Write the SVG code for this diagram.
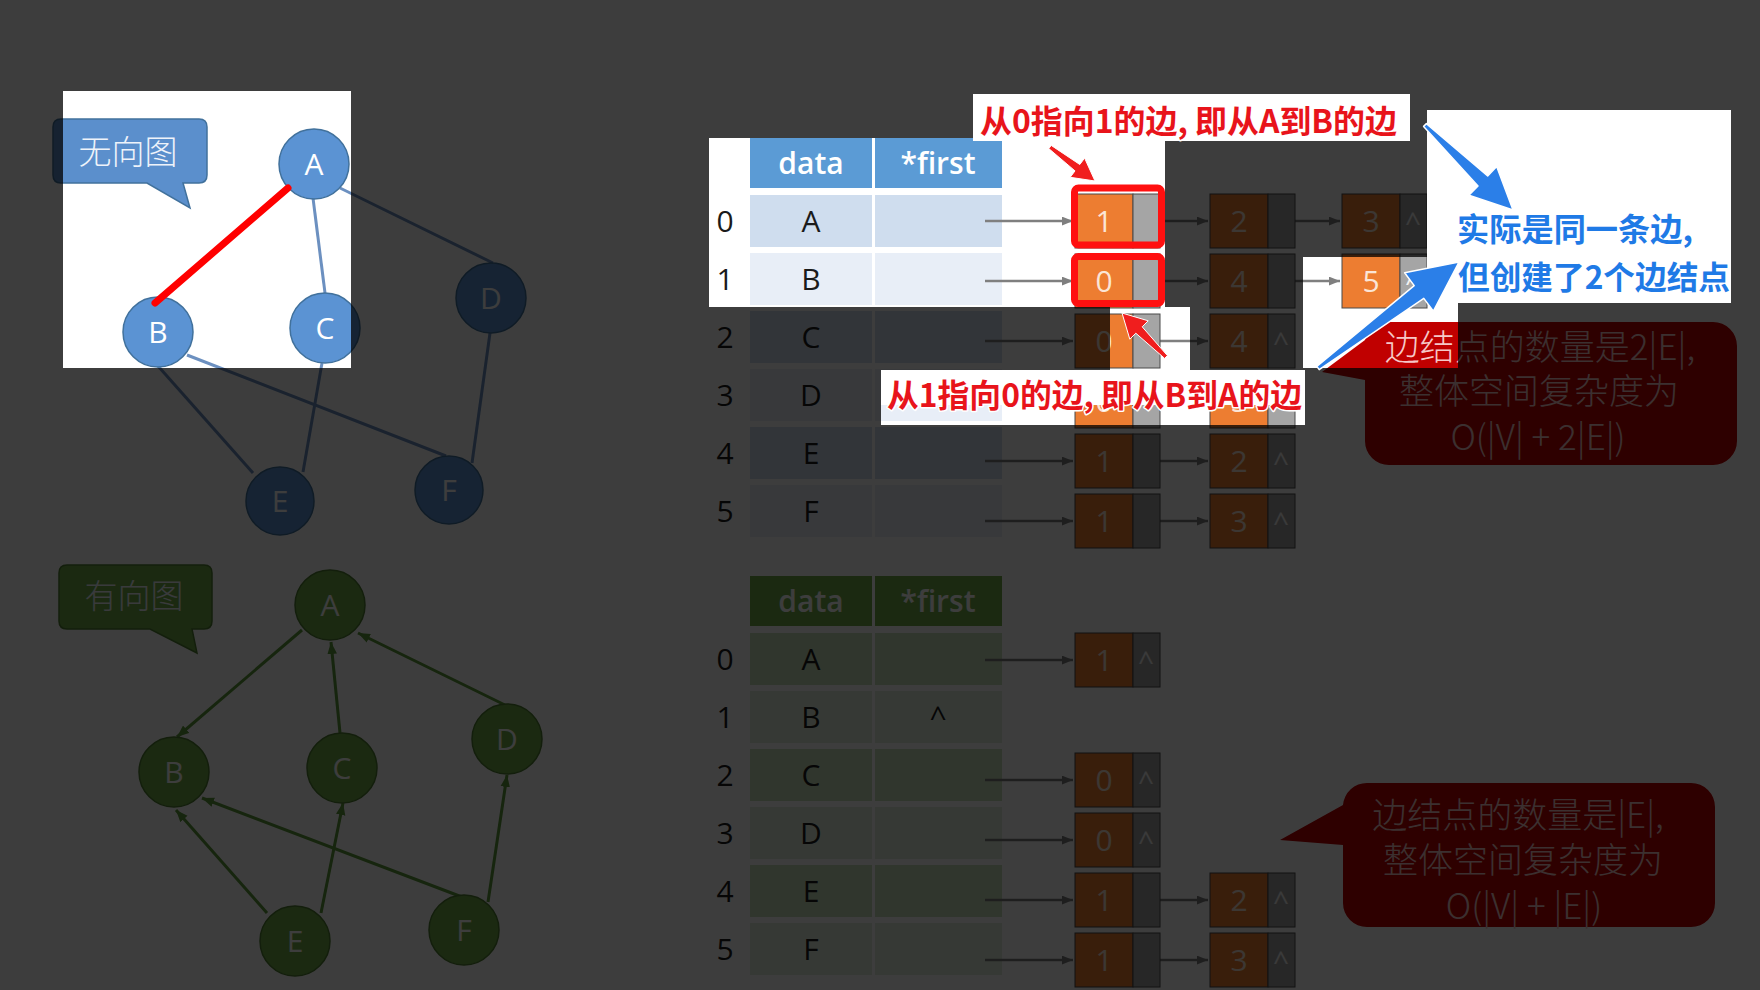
<svg xmlns="http://www.w3.org/2000/svg" width="1760" height="990" viewBox="0 0 1760 990">
<style>
text { font-family: "Open Sans", "Liberation Sans", sans-serif; }
.cjk { font-family: "Noto Sans CJK SC", "Noto Sans", sans-serif; }
.edge-u { stroke: #6C90C0; stroke-width: 3; fill: none; }
.edge-d { stroke: #5E9A3A; stroke-width: 3; fill: none; marker-end: url(#ah-g); }
.unode circle { fill: #5B93D3; stroke: #41719C; stroke-width: 1.5; }
.dnode circle { fill: #70AD47; stroke: #507E32; stroke-width: 1.5; }
.nl { font-size: 30px; fill: #ffffff; text-anchor: middle; }
.hd-u { fill: #5B9BD5; }
.hd-d { fill: #70AD47; }
.ht { font-size: 30px; font-weight: 600; fill: #ffffff; text-anchor: middle; }
.ru0 { fill: #CFDDEE; }
.ru1 { fill: #E8EEF7; }
.rd0 { fill: #C9DFBB; }
.rd1 { fill: #E3EFDB; }
.idx, .val { font-size: 30px; fill: #1a1a1a; text-anchor: middle; }
.dc { fill: #ED7D31; stroke: #4a4a4a; stroke-width: 1; }
.pc { fill: #A5A5A5; stroke: #4a4a4a; stroke-width: 1; }
.bd { font-size: 30px; fill: #FBE5D6; text-anchor: middle; }
.nul { font-size: 28px; fill: #F2F2F2; text-anchor: middle; }
.ptr { stroke: #7F7F7F; stroke-width: 2.5; fill: none; marker-end: url(#ah); }
.bubble-u { fill: #5B8FCC; stroke: #41719C; stroke-width: 1.5; }
.bubble-d { fill: #70AD47; stroke: #507E32; stroke-width: 1.5; }
.bt { font-size: 33px; font-weight: 300; fill: #EEF3FA; text-anchor: middle; }
.callout { fill: #C00000; }
.ct { font-size: 35px; font-weight: 300; fill: #F6C8C8; text-anchor: middle; }
.tag { fill: #ffffff; }
.red-txt { font-size: 32px; font-weight: 700; fill: #E8141B; stroke: #ffffff; stroke-width: 3; paint-order: stroke; stroke-linejoin: round; }
.blue-txt { font-size: 32px; font-weight: 700; fill: #1F7AE6; stroke: #ffffff; stroke-width: 3; paint-order: stroke; stroke-linejoin: round; }
.frame { fill: none; stroke: #FF1010; stroke-width: 7; }
.red-arrow { fill: #F01E1E; stroke: #ffffff; stroke-width: 1; stroke-linejoin: round; }
.blue-arrow { fill: #2B7FE8; stroke: #ffffff; stroke-width: 1.5; stroke-linejoin: round; }
</style>
<defs>
  <marker id="ah" viewBox="0 0 10 8" refX="10" refY="4" markerWidth="11" markerHeight="9" markerUnits="userSpaceOnUse" orient="auto">
    <path d="M0,0 L10,4 L0,8 Z" fill="#7F7F7F"/>
  </marker>
  <marker id="ah-g" viewBox="0 0 10 8" refX="10" refY="4" markerWidth="12" markerHeight="10" markerUnits="userSpaceOnUse" orient="auto">
    <path d="M0,0 L10,4 L0,8 Z" fill="#5E9A3A"/>
  </marker>
</defs>

<!-- slide background -->
<rect x="0" y="0" width="1760" height="990" fill="#ffffff"/>

<!-- undirected graph -->
<path class="bubble-u" d="M61,119 H199 Q207,119 207,127 V175 Q207,183 199,183 H183 L190,208 L147,183 H61 Q53,183 53,175 V127 Q53,119 61,119 Z"/>
<text class="cjk bt" x="128" y="164">无向图</text>
<g id="edges-undirected">
  <line class="edge-u" x1="155" y1="303" x2="288" y2="188"/>
  <line class="edge-u" x1="313" y1="198" x2="325" y2="293"/>
  <line class="edge-u" x1="340" y1="188" x2="493" y2="263"/>
  <line class="edge-u" x1="158" y1="366" x2="253" y2="473"/>
  <line class="edge-u" x1="187" y1="355" x2="446" y2="456"/>
  <line class="edge-u" x1="322" y1="363" x2="303" y2="472"/>
  <line class="edge-u" x1="490" y1="333" x2="472" y2="463"/>
</g>
<g id="u-A" class="unode"><circle cx="314" cy="164" r="35"/><text class="nl" x="314" y="175">A</text></g>
<g id="u-B" class="unode"><circle cx="158" cy="332" r="35"/><text class="nl" x="158" y="343">B</text></g>
<g id="u-C" class="unode"><circle cx="325" cy="328" r="35"/><text class="nl" x="325" y="339">C</text></g>
<g id="u-D" class="unode"><circle cx="491" cy="298" r="35"/><text class="nl" x="491" y="309">D</text></g>
<g id="u-E" class="unode"><circle cx="280" cy="501" r="34"/><text class="nl" x="280" y="512">E</text></g>
<g id="u-F" class="unode"><circle cx="449" cy="490" r="34"/><text class="nl" x="449" y="501">F</text></g>

<!-- directed graph -->
<path class="bubble-d" d="M67,565 H204 Q212,565 212,573 V621 Q212,629 204,629 H192 L197,653 L150,629 H67 Q59,629 59,621 V573 Q59,565 67,565 Z"/>
<text class="cjk bt" x="134" y="608">有向图</text>
<g id="edges-directed">
  <line class="edge-d" x1="302" y1="630" x2="177" y2="737"/>
  <line class="edge-d" x1="340" y1="733" x2="331" y2="642"/>
  <line class="edge-d" x1="505" y1="705" x2="358" y2="633"/>
  <line class="edge-d" x1="267" y1="913" x2="176" y2="810"/>
  <line class="edge-d" x1="321" y1="913" x2="343" y2="803"/>
  <line class="edge-d" x1="462" y1="897" x2="202" y2="798"/>
  <line class="edge-d" x1="488" y1="902" x2="507" y2="775"/>
</g>
<g id="d-A" class="dnode"><circle cx="330" cy="605" r="35"/><text class="nl" x="330" y="616">A</text></g>
<g id="d-B" class="dnode"><circle cx="174" cy="772" r="35"/><text class="nl" x="174" y="783">B</text></g>
<g id="d-C" class="dnode"><circle cx="342" cy="768" r="35"/><text class="nl" x="342" y="779">C</text></g>
<g id="d-D" class="dnode"><circle cx="507" cy="739" r="35"/><text class="nl" x="507" y="750">D</text></g>
<g id="d-E" class="dnode"><circle cx="295" cy="941" r="35"/><text class="nl" x="295" y="952">E</text></g>
<g id="d-F" class="dnode"><circle cx="464" cy="930" r="35"/><text class="nl" x="464" y="941">F</text></g>

<!-- vertex table, undirected -->
<g id="tbl-u">
  <rect class="hd-u" x="750" y="138" width="122" height="50"/>
  <rect class="hd-u" x="875" y="138" width="127" height="50"/>
  <text class="ht" x="811" y="174">data</text>
  <text class="ht" x="938" y="174">*first</text>
  <rect class="ru0" x="750" y="195" width="122" height="52"/><rect class="ru0" x="875" y="195" width="127" height="52"/>
  <rect class="ru1" x="750" y="253" width="122" height="52"/><rect class="ru1" x="875" y="253" width="127" height="52"/>
  <rect class="ru0" x="750" y="311" width="122" height="52"/><rect class="ru0" x="875" y="311" width="127" height="52"/>
  <rect class="ru1" x="750" y="369" width="122" height="52"/><rect class="ru1" x="875" y="369" width="127" height="52"/>
  <rect class="ru0" x="750" y="427" width="122" height="52"/><rect class="ru0" x="875" y="427" width="127" height="52"/>
  <rect class="ru1" x="750" y="485" width="122" height="52"/><rect class="ru1" x="875" y="485" width="127" height="52"/>
  <text class="idx" x="725" y="232">0</text><text class="val" x="811" y="232">A</text>
  <text class="idx" x="725" y="290">1</text><text class="val" x="811" y="290">B</text>
  <text class="idx" x="725" y="348">2</text><text class="val" x="811" y="348">C</text>
  <text class="idx" x="725" y="406">3</text><text class="val" x="811" y="406">D</text>
  <text class="idx" x="725" y="464">4</text><text class="val" x="811" y="464">E</text>
  <text class="idx" x="725" y="522">5</text><text class="val" x="811" y="522">F</text>
</g>

<!-- edge lists, undirected -->
<g id="links-u">
  <path class="ptr" d="M985,221 H1073"/><path class="ptr" d="M1160,221 H1208"/><path class="ptr" d="M1295,221 H1340"/>
  <path class="ptr" d="M985,281 H1073"/><path class="ptr" d="M1160,281 H1208"/><path class="ptr" d="M1295,281 H1340"/>
  <path class="ptr" d="M985,341 H1073"/><path class="ptr" d="M1160,341 H1208"/>
  <path class="ptr" d="M985,401 H1073"/><path class="ptr" d="M1160,401 H1208"/>
  <path class="ptr" d="M985,461 H1073"/><path class="ptr" d="M1160,461 H1208"/>
  <path class="ptr" d="M985,521 H1073"/><path class="ptr" d="M1160,521 H1208"/>
</g>
<g id="eu-0-1" transform="translate(1075,194)"><rect class="dc" width="58" height="54"/><rect class="pc" x="58" width="27" height="54"/><text class="bd" x="29" y="38">1</text></g>
<g id="eu-0-2" transform="translate(1210,194)"><rect class="dc" width="58" height="54"/><rect class="pc" x="58" width="27" height="54"/><text class="bd" x="29" y="38">2</text></g>
<g id="eu-0-3" transform="translate(1342,194)"><rect class="dc" width="58" height="54"/><rect class="pc" x="58" width="27" height="54"/><text class="bd" x="29" y="38">3</text><text class="nul" x="71" y="38">^</text></g>
<g id="eu-1-0" transform="translate(1075,254)"><rect class="dc" width="58" height="54"/><rect class="pc" x="58" width="27" height="54"/><text class="bd" x="29" y="38">0</text></g>
<g id="eu-1-4" transform="translate(1210,254)"><rect class="dc" width="58" height="54"/><rect class="pc" x="58" width="27" height="54"/><text class="bd" x="29" y="38">4</text></g>
<g id="eu-1-5" transform="translate(1342,254)"><rect class="dc" width="58" height="54"/><rect class="pc" x="58" width="27" height="54"/><text class="bd" x="29" y="38">5</text><text class="nul" x="71" y="38">^</text></g>
<g id="eu-2-0" transform="translate(1075,314)"><rect class="dc" width="58" height="54"/><rect class="pc" x="58" width="27" height="54"/><text class="bd" x="29" y="38">0</text></g>
<g id="eu-2-4" transform="translate(1210,314)"><rect class="dc" width="58" height="54"/><rect class="pc" x="58" width="27" height="54"/><text class="bd" x="29" y="38">4</text><text class="nul" x="71" y="38">^</text></g>
<g id="eu-3-0" transform="translate(1075,374)"><rect class="dc" width="58" height="54"/><rect class="pc" x="58" width="27" height="54"/><text class="bd" x="29" y="38">0</text></g>
<g id="eu-3-5" transform="translate(1210,374)"><rect class="dc" width="58" height="54"/><rect class="pc" x="58" width="27" height="54"/><text class="bd" x="29" y="38">5</text><text class="nul" x="71" y="38">^</text></g>
<g id="eu-4-1" transform="translate(1075,434)"><rect class="dc" width="58" height="54"/><rect class="pc" x="58" width="27" height="54"/><text class="bd" x="29" y="38">1</text></g>
<g id="eu-4-2" transform="translate(1210,434)"><rect class="dc" width="58" height="54"/><rect class="pc" x="58" width="27" height="54"/><text class="bd" x="29" y="38">2</text><text class="nul" x="71" y="38">^</text></g>
<g id="eu-5-1" transform="translate(1075,494)"><rect class="dc" width="58" height="54"/><rect class="pc" x="58" width="27" height="54"/><text class="bd" x="29" y="38">1</text></g>
<g id="eu-5-3" transform="translate(1210,494)"><rect class="dc" width="58" height="54"/><rect class="pc" x="58" width="27" height="54"/><text class="bd" x="29" y="38">3</text><text class="nul" x="71" y="38">^</text></g>

<!-- vertex table, directed -->
<g id="tbl-d">
  <rect class="hd-d" x="750" y="576" width="122" height="50"/>
  <rect class="hd-d" x="875" y="576" width="127" height="50"/>
  <text class="ht" x="811" y="612">data</text>
  <text class="ht" x="938" y="612">*first</text>
  <rect class="rd0" x="750" y="633" width="122" height="52"/><rect class="rd0" x="875" y="633" width="127" height="52"/>
  <rect class="rd1" x="750" y="691" width="122" height="52"/><rect class="rd1" x="875" y="691" width="127" height="52"/>
  <rect class="rd0" x="750" y="749" width="122" height="52"/><rect class="rd0" x="875" y="749" width="127" height="52"/>
  <rect class="rd1" x="750" y="807" width="122" height="52"/><rect class="rd1" x="875" y="807" width="127" height="52"/>
  <rect class="rd0" x="750" y="865" width="122" height="52"/><rect class="rd0" x="875" y="865" width="127" height="52"/>
  <rect class="rd1" x="750" y="923" width="122" height="52"/><rect class="rd1" x="875" y="923" width="127" height="52"/>
  <text class="idx" x="725" y="670">0</text><text class="val" x="811" y="670">A</text>
  <text class="idx" x="725" y="728">1</text><text class="val" x="811" y="728">B</text><text class="val" x="938" y="728">^</text>
  <text class="idx" x="725" y="786">2</text><text class="val" x="811" y="786">C</text>
  <text class="idx" x="725" y="844">3</text><text class="val" x="811" y="844">D</text>
  <text class="idx" x="725" y="902">4</text><text class="val" x="811" y="902">E</text>
  <text class="idx" x="725" y="960">5</text><text class="val" x="811" y="960">F</text>
</g>

<!-- edge lists, directed -->
<g id="links-d">
  <path class="ptr" d="M985,660 H1073"/>
  <path class="ptr" d="M985,780 H1073"/>
  <path class="ptr" d="M985,840 H1073"/>
  <path class="ptr" d="M985,900 H1073"/><path class="ptr" d="M1160,900 H1208"/>
  <path class="ptr" d="M985,960 H1073"/><path class="ptr" d="M1160,960 H1208"/>
</g>
<g id="ed-0-1" transform="translate(1075,633)"><rect class="dc" width="58" height="54"/><rect class="pc" x="58" width="27" height="54"/><text class="bd" x="29" y="38">1</text><text class="nul" x="71" y="38">^</text></g>
<g id="ed-2-0" transform="translate(1075,753)"><rect class="dc" width="58" height="54"/><rect class="pc" x="58" width="27" height="54"/><text class="bd" x="29" y="38">0</text><text class="nul" x="71" y="38">^</text></g>
<g id="ed-3-0" transform="translate(1075,813)"><rect class="dc" width="58" height="54"/><rect class="pc" x="58" width="27" height="54"/><text class="bd" x="29" y="38">0</text><text class="nul" x="71" y="38">^</text></g>
<g id="ed-4-1" transform="translate(1075,873)"><rect class="dc" width="58" height="54"/><rect class="pc" x="58" width="27" height="54"/><text class="bd" x="29" y="38">1</text></g>
<g id="ed-4-2" transform="translate(1210,873)"><rect class="dc" width="58" height="54"/><rect class="pc" x="58" width="27" height="54"/><text class="bd" x="29" y="38">2</text><text class="nul" x="71" y="38">^</text></g>
<g id="ed-5-1" transform="translate(1075,933)"><rect class="dc" width="58" height="54"/><rect class="pc" x="58" width="27" height="54"/><text class="bd" x="29" y="38">1</text></g>
<g id="ed-5-3" transform="translate(1210,933)"><rect class="dc" width="58" height="54"/><rect class="pc" x="58" width="27" height="54"/><text class="bd" x="29" y="38">3</text><text class="nul" x="71" y="38">^</text></g>

<!-- complexity notes -->
<g id="note-undirected">
  <path class="callout" d="M1389,322 H1713 A24,24 0 0 1 1737,346 V441 A24,24 0 0 1 1713,465 H1389 A24,24 0 0 1 1365,441 V380 L1322,372 L1365,340 A24,24 0 0 1 1389,322 Z"/>
  <text class="cjk ct" x="1540" y="360">边结点的数量是2|E|,</text>
  <text class="cjk ct" x="1539" y="404">整体空间复杂度为</text>
  <text class="cjk ct" x="1538" y="450">O(|V| + 2|E|)</text>
</g>
<g id="note-directed">
  <path class="callout" d="M1367,783 H1691 A24,24 0 0 1 1715,807 V903 A24,24 0 0 1 1691,927 H1367 A24,24 0 0 1 1343,903 V845 L1280,840 L1343,805 A24,24 0 0 1 1367,783 Z"/>
  <text class="cjk ct" x="1518" y="828">边结点的数量是|E|,</text>
  <text class="cjk ct" x="1523" y="873">整体空间复杂度为</text>
  <text class="cjk ct" x="1524" y="919">O(|V| + |E|)</text>
</g>

<!-- dimming layer with lit windows -->
<path id="dim" fill="#000000" fill-opacity="0.76" fill-rule="evenodd" d="M0,0 H1760 V990 H0 Z M63,91 H351 V368 H63 Z M709,138 H1165 V307 H709 Z M1110,307 H1190 V370 H1110 Z M1303,257 H1458 V368 H1303 Z M881,370 H1305 V425 H881 Z"/>

<!-- highlights and remarks -->
<g id="marks">
  <line x1="155" y1="303" x2="288" y2="188" stroke="#FF0000" stroke-width="7" stroke-linecap="round"/>
  <rect class="frame" x="1074.5" y="188" width="87" height="57" rx="4"/>
  <rect class="frame" x="1074.5" y="256.5" width="87" height="47" rx="4"/>

  <rect class="tag" x="973" y="94" width="437" height="47"/>
  <text class="cjk red-txt" x="980" y="133" textLength="417" lengthAdjust="spacingAndGlyphs">从0指向1的边, 即从A到B的边</text>

  <rect class="tag" x="881" y="370" width="424" height="35"/>
  <text class="cjk red-txt" x="887" y="407" textLength="415" lengthAdjust="spacingAndGlyphs">从1指向0的边, 即从B到A的边</text>

  <rect class="tag" x="1427" y="110" width="304" height="193"/>
  <text class="cjk blue-txt" x="1457" y="241" textLength="236" lengthAdjust="spacingAndGlyphs">实际是同一条边,</text>
  <text class="cjk blue-txt" x="1458" y="289" textLength="272" lengthAdjust="spacingAndGlyphs">但创建了2个边结点</text>

  <polygon class="red-arrow" points="1051.2,145.4 1079.8,164.5 1084.6,158.1 1095,181 1070.2,177.3 1075,170.9 1048.8,148.6"/>
  <polygon class="red-arrow" points="1167.4,355.6 1142.2,326.8 1148.2,320.8 1122,313 1129.8,339.2 1135.8,333.2 1164.6,358.4"/>
  <polygon class="blue-arrow" points="1426.4,123.6 1487.7,175.9 1496.7,166.5 1513,210 1468.9,195.3 1478,185.9 1423.6,126.4"/>
  <polygon class="blue-arrow" points="1316.8,366.4 1414.2,285.6 1404.6,272.8 1459,262 1433.4,311.2 1423.8,298.4 1319.2,369.6"/>
</g>
</svg>
